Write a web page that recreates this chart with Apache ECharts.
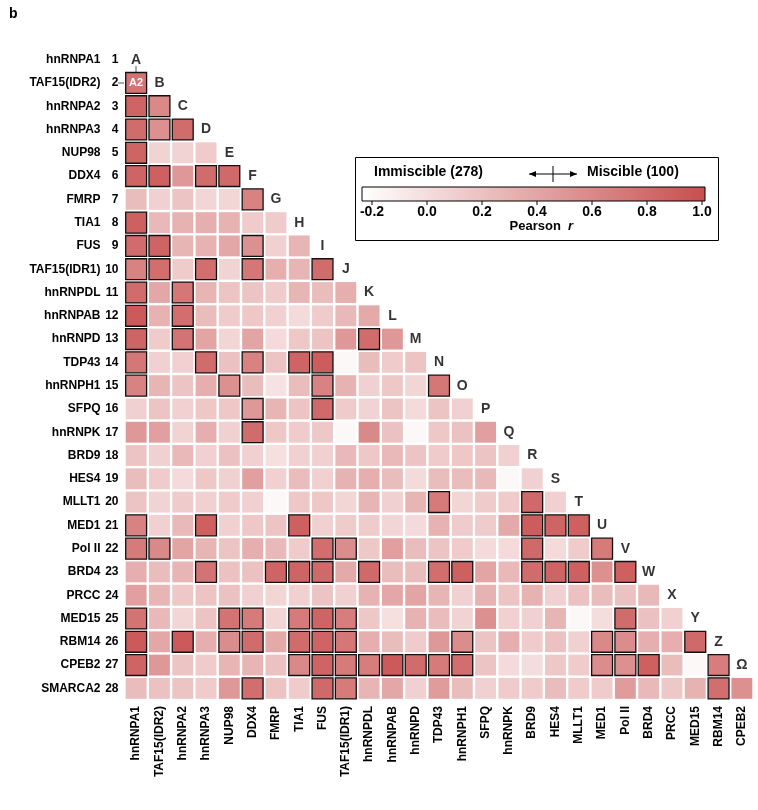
<!DOCTYPE html>
<html><head><meta charset="utf-8">
<script src="https://cdn.jsdelivr.net/npm/echarts@6/dist/echarts.min.js"></script>
<style>html,body{margin:0;padding:0;background:#fff}#c{width:758px;height:810px}</style>
</head><body><div id="c"></div>
<script>
const rowNames = ['hnRNPA1','TAF15(IDR2)','hnRNPA2','hnRNPA3','NUP98','DDX4','FMRP','TIA1','FUS','TAF15(IDR1)','hnRNPDL','hnRNPAB','hnRNPD','TDP43','hnRNPH1','SFPQ','hnRNPK','BRD9','HES4','MLLT1','MED1','Pol II','BRD4','PRCC','MED15','RBM14','CPEB2','SMARCA2'];
const colNames = rowNames.slice(0, 27);
const letters = ['A','B','C','D','E','F','G','H','I','J','K','L','M','N','O','P','Q','R','S','T','U','V','W','X','Y','Z','Ω'];
const tickLabels = ['-0.2','0.0','0.2','0.4','0.6','0.8','1.0'];
// values per row (row i has columns 1..i-1)
const values = [
 [],
 [0.75],
 [0.85,0.6],
 [0.8,0.55,0.8],
 [0.85,0.1,0.1,0.15],
 [0.85,0.88,0.5,0.8,0.82],
 [0.25,0.12,0.2,0.08,0.08,0.65],
 [0.88,0.28,0.32,0.35,0.32,0.15,0.15],
 [0.8,0.85,0.3,0.32,0.4,0.55,0.12,0.3],
 [0.65,0.78,0.15,0.78,0.1,0.72,0.35,0.3,0.8],
 [0.8,0.4,0.72,0.3,0.2,0.2,0.15,0.3,0.25,0.35],
 [0.92,0.32,0.78,0.25,0.15,0.18,0.12,0.05,0.15,0.28,0.38],
 [0.85,0.15,0.75,0.42,0.08,0.42,0.05,0.18,0.2,0.5,0.8,0.5],
 [0.72,0.12,0.12,0.8,0.22,0.65,0.2,0.85,0.9,-0.15,0.25,0.15,0.2],
 [0.65,0.3,0.2,0.35,0.55,0.25,0.0,0.25,0.65,0.32,0.12,0.18,0.08,0.72],
 [0.12,0.2,0.12,0.18,0.18,0.5,0.3,0.2,0.82,0.15,0.1,0.2,0.05,0.2,0.12],
 [0.5,0.45,0.1,0.35,0.12,0.8,0.18,0.15,0.18,-0.15,0.6,0.22,-0.15,0.18,0.22,0.45],
 [0.2,0.12,0.28,0.12,0.22,0.12,0.02,0.12,0.12,0.28,0.18,0.28,0.2,0.15,0.18,0.2,0.12],
 [0.25,0.15,0.05,0.18,0.12,0.45,0.12,0.25,0.12,0.32,0.35,0.25,0.05,0.25,0.25,0.28,-0.15,0.12],
 [0.2,0.1,0.15,0.12,0.15,0.12,-0.15,0.18,0.18,0.08,0.3,0.12,0.3,0.7,0.08,0.15,0.15,0.82,0.12],
 [0.65,0.12,0.28,0.88,0.12,0.18,0.2,0.88,0.12,0.15,0.15,0.08,0.05,0.32,0.15,0.15,0.38,0.9,0.85,0.88],
 [0.7,0.6,0.42,0.3,0.2,0.35,0.28,0.15,0.78,0.58,0.18,0.45,0.25,0.2,0.15,0.05,0.05,0.82,0.05,0.15,0.7],
 [0.35,0.25,0.3,0.75,0.22,0.22,0.85,0.85,0.82,0.38,0.82,0.25,0.25,0.78,0.88,0.42,0.28,0.8,0.85,0.88,0.55,0.88],
 [0.45,0.3,0.18,0.2,0.22,0.12,0.08,0.12,0.2,0.12,0.32,0.4,0.42,0.3,0.12,0.32,0.2,0.32,0.12,0.22,0.25,0.22,0.28],
 [0.75,0.28,0.08,0.2,0.75,0.7,0.08,0.7,0.85,0.68,0.18,0.02,0.32,0.25,0.1,0.55,0.12,0.12,0.3,-0.15,0.03,0.8,0.22,0.12],
 [0.92,0.4,0.92,0.35,0.58,0.8,0.38,0.8,0.85,0.72,0.35,0.25,0.15,0.5,0.58,0.2,0.35,0.15,0.22,0.12,0.6,0.58,0.35,0.35,0.82],
 [0.85,0.5,0.2,0.15,0.3,0.3,0.22,0.6,0.85,0.7,0.68,0.92,0.8,0.7,0.78,0.2,0.05,0.03,0.18,0.15,0.58,0.55,0.88,0.25,-0.15,0.68],
 [0.25,0.22,0.2,0.15,0.5,0.78,0.2,0.15,0.82,0.7,0.3,0.4,0.12,0.48,0.25,0.12,0.15,0.15,0.25,0.15,0.15,0.48,0.28,0.18,0.32,0.78,0.55]
];
// bordered (significant) columns per row, 1-based
const bordered = [
 [],[1],[1,2],[1,2,3],[1],[1,2,4,5],[6],[1],[1,2,6],[1,2,4,6,9],[1,3],[1,3],[1,3,11],[1,4,6,8,9],
 [1,5,9,14],[6,9],[6],[],[],[14,18],[1,4,8,18,19,20],[1,2,9,10,18,21],[4,7,8,9,11,14,15,18,19,20,22],[],
 [1,5,6,8,9,10,22],[1,3,5,6,8,9,10,15,21,22,25],[1,8,9,10,11,12,13,14,15,21,22,23,26],[6,9,10,26]
];

const data = [];
values.forEach((row, r) => row.forEach((v, c) => {
  data.push([c, r, v, bordered[r].includes(c + 1) ? 1 : 0]);
}));
const letterData = letters.map((l, i) => ({ value: [i, i], name: l }));

const L = 124.5, W = 629, T = 48, H = 652;
const cmin = -0.2, cmax = 1.0, colors = ['#ffffff', '#c84e4e'];
const barX0 = 362, barX1 = 705, barY = 187, barH = 14;
const scaleX = v => 372 + (v - cmin) / (cmax - cmin) * 330;

const graphics = [
  { type: 'text', left: 9, top: 7, style: { text: 'b', font: 'bold 14px Liberation Sans', fill: '#000' } },
  { type: 'rect', shape: { x: 355.5, y: 157.5, width: 363, height: 83 }, style: { fill: '#fff', stroke: '#000', lineWidth: 1 }, z: 5 },
  { type: 'text', x: 374, y: 165, style: { text: 'Immiscible (278)', font: 'bold 14px Liberation Sans', fill: '#000' }, z: 6 },
  { type: 'text', x: 587, y: 165, style: { text: 'Miscible (100)', font: 'bold 14px Liberation Sans', fill: '#000' }, z: 6 },
  { type: 'line', shape: { x1: 529, y1: 174, x2: 577, y2: 174 }, style: { stroke: '#000', lineWidth: 1 }, z: 6 },
  { type: 'line', shape: { x1: 553, y1: 166, x2: 553, y2: 182 }, style: { stroke: '#000', lineWidth: 1 }, z: 6 },
  { type: 'polygon', shape: { points: [[529,174],[536,171],[536,177]] }, style: { fill: '#000' }, z: 6 },
  { type: 'polygon', shape: { points: [[577,174],[570,171],[570,177]] }, style: { fill: '#000' }, z: 6 },
  { type: 'rect', shape: { x: barX0, y: barY, width: barX1 - barX0, height: barH },
    style: { stroke: '#000', lineWidth: 1, fill: new echarts.graphic.LinearGradient(0, 0, 1, 0, [{ offset: 0, color: colors[0] }, { offset: 1, color: colors[1] }]) }, z: 6 },
  { type: 'text', x: 537, y: 220, style: { text: 'Pearson ', font: 'bold 13px Liberation Sans', fill: '#000', textAlign: 'center' }, z: 6 },
  { type: 'text', x: 568, y: 220, style: { text: 'r', font: 'italic bold 13px Liberation Sans', fill: '#000' }, z: 6 },
  { type: 'line', shape: { x1: 136, y1: 66, x2: 136, y2: 72 }, style: { stroke: '#555', lineWidth: 1 } },
  { type: 'line', shape: { x1: 118, y1: 83, x2: 124, y2: 83 }, style: { stroke: '#555', lineWidth: 1 } }
];
tickLabels.forEach(t => {
  const x = scaleX(parseFloat(t));
  graphics.push({ type: 'line', shape: { x1: x, y1: barY + barH, x2: x, y2: barY + barH + 4 }, style: { stroke: '#000', lineWidth: 1 }, z: 7 });
  graphics.push({ type: 'text', x: x, y: barY + barH + 4, style: { text: t, font: 'bold 14px Liberation Sans', fill: '#000', textAlign: 'center' }, z: 7 });
});

const chart = echarts.init(document.getElementById('c'));
chart.setOption({
  animation: false,
  grid: { left: L, top: T, width: W, height: H },
  xAxis: { type: 'category', data: colNames, position: 'bottom',
    axisLine: { show: false }, axisTick: { show: false }, splitLine: { show: false },
    axisLabel: { rotate: 90, interval: 0, fontWeight: 'bold', fontSize: 12, fontFamily: 'Liberation Sans', color: '#000', margin: 6 } },
  yAxis: { type: 'category', data: rowNames, inverse: true,
    axisLine: { show: false }, axisTick: { show: false }, splitLine: { show: false },
    axisLabel: { interval: 0, margin: 6, color: '#000',
      formatter: (v, i) => '{a|' + v + '}{b|' + (i + 1) + '}',
      rich: { a: { fontWeight: 'bold', fontSize: 12, fontFamily: 'Liberation Sans', align: 'right' },
              b: { fontWeight: 'bold', fontSize: 12, fontFamily: 'Liberation Sans', width: 18, align: 'right' } } } },
  visualMap: { show: false, min: cmin, max: cmax, dimension: 2, seriesIndex: 0, inRange: { color: colors } },
  series: [
    { type: 'custom', data: data, encode: { x: 0, y: 1 },
      renderItem: (params, api) => {
        const p = api.coord([api.value(0), api.value(1)]);
        const s = api.size([1, 1]);
        const b = api.value(3) === 1;
        const inset = 1.2;
        const children = [{ type: 'rect',
          shape: { x: p[0] - s[0] / 2 + inset, y: p[1] - s[1] / 2 + inset, width: s[0] - 2 * inset, height: s[1] - 2 * inset },
          style: { fill: api.visual('color'), stroke: b ? '#111' : null, lineWidth: b ? 1.3 : 0 } }];
        if (params.dataIndex === 0) children.push({ type: 'text',
          style: { text: 'A2', x: p[0], y: p[1], align: 'center', verticalAlign: 'middle', font: 'bold 11px Liberation Sans', fill: '#fff' } });
        return { type: 'group', children: children };
      } },
    { type: 'scatter', data: letterData, symbolSize: 0, silent: true,
      label: { show: true, position: 'inside', formatter: p => p.name, fontWeight: 'bold', fontSize: 14, fontFamily: 'Liberation Sans', color: '#000', textBorderWidth: 0 } }
  ],
  graphic: graphics
});
</script></body></html>
